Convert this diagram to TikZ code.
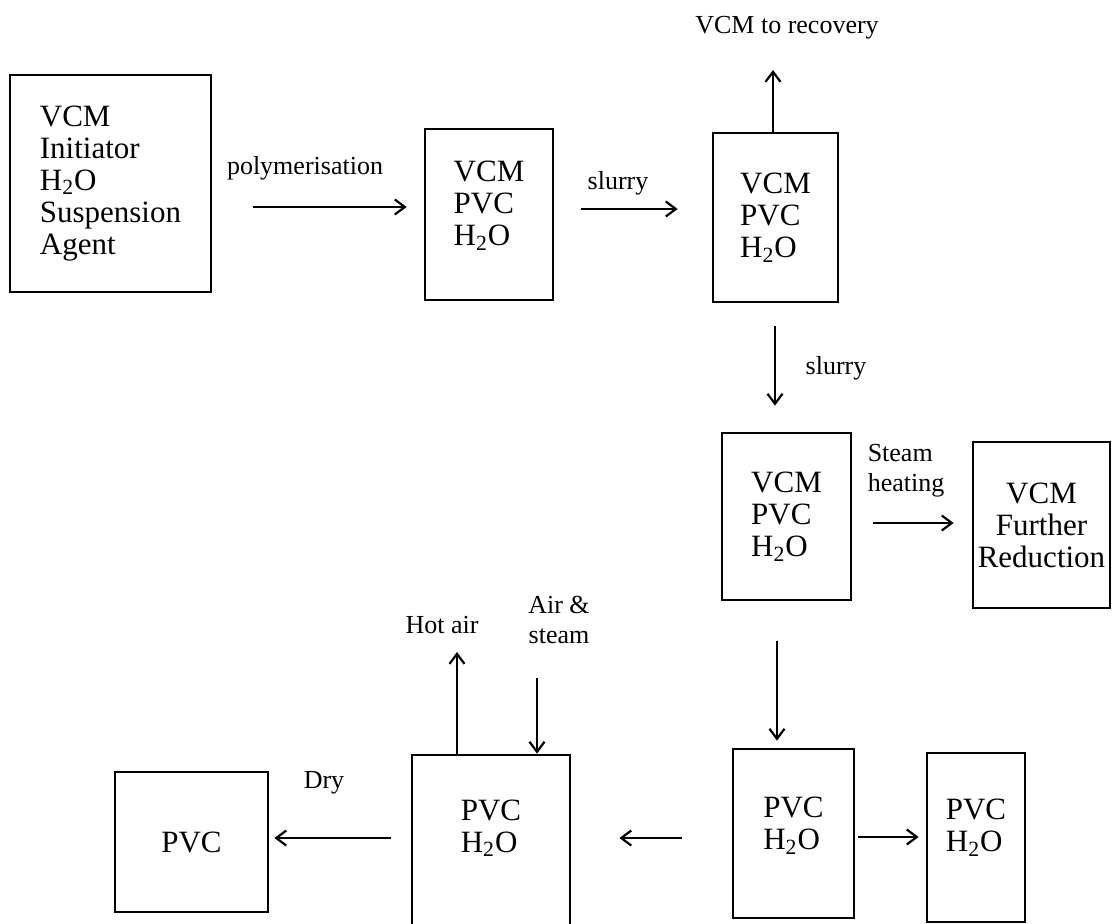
\documentclass[tikz,border=0pt]{standalone}
\usepackage{fontspec}
\setmainfont{Liberation Serif}
\usetikzlibrary{arrows.meta}

\newcommand{\water}{H\textsubscript{2}O}

\begin{document}
\begin{tikzpicture}[
    x=0.5pt, y=-0.5pt,
    >={Straight Barb[length=5pt,width=7.5pt]},
    tank/.style={
        draw=black,
        line width=1.4pt,
        align=left,
        font=\fontsize{15.5}{16}\selectfont,
        inner sep=0pt
    },
    raised/.style={
        text depth=#1
    },
    flow/.style={
        draw=black,
        line width=1.1pt,
        ->
    },
    tag/.style={
        font=\fontsize{13}{15}\selectfont,
        text=black,
        inner sep=1pt
    }
]
\useasboundingbox (0,0) rectangle (1112,923);

% vessels
\node[tank, minimum width=100.5pt, minimum height=108.5pt] (feed) at (110.5,183.5) {VCM\\Initiator\\\water\\Suspension\\Agent};
\node[tank, raised=11pt, minimum width=64pt, minimum height=85.5pt] (reactor) at (489,214.5) {VCM\\PVC\\\water};
\node[tank, minimum width=62.5pt, minimum height=84.5pt] (blowdown) at (775.5,217.5) {VCM\\PVC\\\water};
\node[tank, minimum width=64.5pt, minimum height=83.5pt] (stripper) at (786.5,516.5) {VCM\\PVC\\\water};
\node[tank, align=center, minimum width=68.5pt, minimum height=83pt] (reduction) at (1041.5,525) {VCM\\Further\\Reduction};
\node[tank, raised=10pt, minimum width=60.5pt, minimum height=84.5pt] (centrifuge) at (793.5,833.5) {PVC\\\water};
\node[tank, raised=12pt, minimum width=49pt, minimum height=84.5pt] (liquor) at (976,837.5) {PVC\\\water};
\node[tank, raised=16pt, minimum width=79pt, minimum height=87pt] (dryer) at (491,842) {PVC\\\water};
\node[tank, minimum width=76.5pt, minimum height=70pt] (product) at (191.5,842) {PVC};

% stream labels
\node[tag] (polylbl) at (305,168) {polymerisation};
\node[tag] (slurrya) at (618,183) {slurry};
\node[tag] (recovery) at (787,28) {VCM to recovery};
\node[tag] (slurryb) at (836,368) {slurry};
\node[tag, align=left] (steamlbl) at (906,471) {Steam\\heating};
\node[tag] (hotair) at (442,625) {Hot air};
\node[tag, align=center] (airsteam) at (559,620) {Air \&\\steam};
\node[tag] (drylbl) at (324,783) {Dry};

\coordinate (recovtip) at (773,70);
\coordinate (hotairtip) at (457,652);
\coordinate (airin) at (537,678);

% streams
\draw[flow, shorten <=20.5pt, shorten >=8.5pt] (feed.east |- 0,207) -- (reactor.west |- 0,207);
\draw[flow, shorten <=13.5pt, shorten >=17pt] (reactor.east |- 0,209) -- (blowdown.west |- 0,209);
\draw[flow] (blowdown.north -| recovtip) -- (recovtip);
\draw[flow, shorten <=11.5pt, shorten >=13pt] (blowdown.south -| 775,0) -- (stripper.north -| 775,0);
\draw[flow, shorten <=10.5pt, shorten >=9pt] (stripper.east |- 0,523) -- (reduction.west |- 0,523);
\draw[flow, shorten <=20pt, shorten >=3.5pt] (stripper.south -| 777,0) -- (centrifuge.north -| 777,0);
\draw[flow, shorten <=1.5pt, shorten >=3.5pt] (centrifuge.east |- 0,837) -- (liquor.west |- 0,837);
\draw[flow, shorten <=25pt, shorten >=24pt] (centrifuge.west |- 0,838) -- (dryer.east |- 0,838);
\draw[flow, shorten <=10pt, shorten >=2.5pt] (dryer.west |- 0,838) -- (product.east |- 0,838);
\draw[flow] (dryer.north -| hotairtip) -- (hotairtip);
\draw[flow] (airin) -- (dryer.north -| airin);

\end{tikzpicture}
\end{document}
